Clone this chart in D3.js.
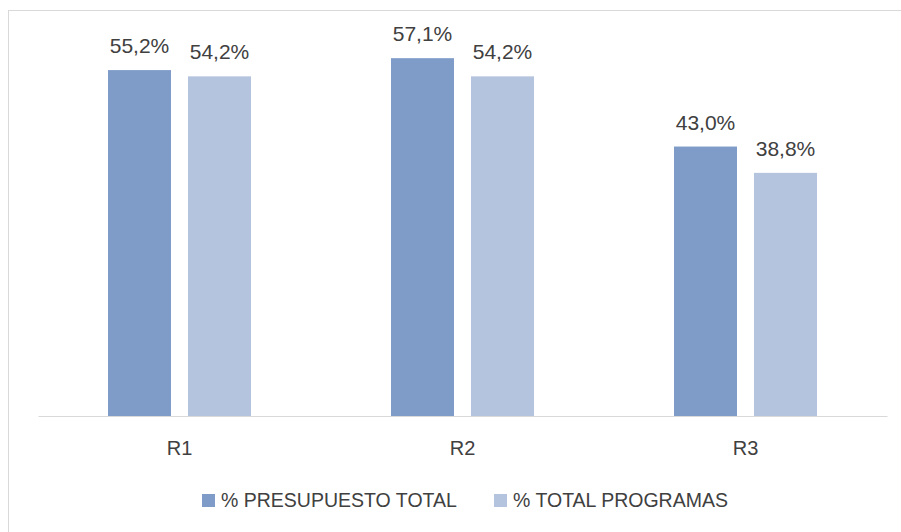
<!DOCTYPE html>
<html>
<head>
<meta charset="utf-8">
<script src="https://cdn.jsdelivr.net/npm/d3@7"></script>
<style>
  body { margin: 0; background: #fff; }
  text { font-family: "Liberation Sans", Arial, sans-serif; fill: #404040; }
</style>
</head>
<body>
<div id="chart"></div>
<script>
var categories = ["R1", "R2", "R3"];
var seriesNames = ["% PRESUPUESTO TOTAL", "% TOTAL PROGRAMAS"];
var presupuesto = [0.552, 0.571, 0.430];
var programas = [0.542, 0.542, 0.388];
var vizColors = ["#7f9cc8", "#b4c4de"];

var width = 901, height = 532;
var margin = { top: 40, right: 14, bottom: 116, left: 38 };

var svg = d3.select("#chart").append("svg")
    .attr("width", width).attr("height", height);

// chart border
svg.append("rect")
    .attr("x", 8.5).attr("y", 10.5)
    .attr("width", 900).attr("height", 530)
    .attr("fill", "none").attr("stroke", "#d9d9d9");

var g = svg.append("g").attr("transform", "translate(" + margin.left + "," + margin.top + ")");
var w = width - margin.left - margin.right,
    h = height - margin.top - margin.bottom;

var x0 = d3.scaleBand().domain(categories).range([0, w]).paddingInner(0).paddingOuter(0);
var x1 = d3.scaleBand().domain([0, 1]).range([0, 143]).paddingInner(0.2125);
var y = d3.scaleLinear().domain([0, 0.6]).range([h, 0]);
var fmt = function (v) { return (v * 100).toFixed(1).replace(".", ",") + "%"; };

var data = categories.map(function (c, i) {
    return { cat: c, vals: [presupuesto[i], programas[i]] };
});

var groups = g.selectAll(".grp").data(data).enter().append("g")
    .attr("transform", function (d) { return "translate(" + (x0(d.cat) + x0.bandwidth() / 2 - 71.5) + ",0)"; });

groups.selectAll("rect").data(function (d) { return d.vals; }).enter().append("rect")
    .attr("x", function (d, i) { return x1(i); })
    .attr("y", function (d) { return y(d); })
    .attr("width", x1.bandwidth())
    .attr("height", function (d) { return h - y(d); })
    .attr("fill", function (d, i) { return vizColors[i]; });

groups.selectAll(".lbl").data(function (d) { return d.vals; }).enter().append("text")
    .attr("x", function (d, i) { return x1(i) + x1.bandwidth() / 2; })
    .attr("y", function (d) { return y(d) - 17; })
    .attr("text-anchor", "middle")
    .attr("font-size", "21px")
    .text(fmt);

// x axis
var xAxis = g.append("g").attr("transform", "translate(0," + h + ")")
    .call(d3.axisBottom(x0).tickSize(0));
xAxis.select(".domain").attr("stroke", "#d9d9d9");
xAxis.selectAll("text")
    .attr("dy", null).attr("y", 39)
    .attr("font-size", "20px").attr("fill", "#404040")
    .style("font-family", "Liberation Sans, Arial, sans-serif");

// legend
var legendX = [202, 494];
var legend = svg.selectAll(".leg").data(seriesNames).enter().append("g")
    .attr("transform", function (d, i) { return "translate(" + legendX[i] + ",494)"; });
legend.append("rect").attr("width", 13).attr("height", 13)
    .attr("fill", function (d, i) { return vizColors[i]; });
legend.append("text").attr("x", 19).attr("y", 13)
    .attr("font-size", "19.5px").text(function (d) { return d; });
</script>
</body>
</html>
